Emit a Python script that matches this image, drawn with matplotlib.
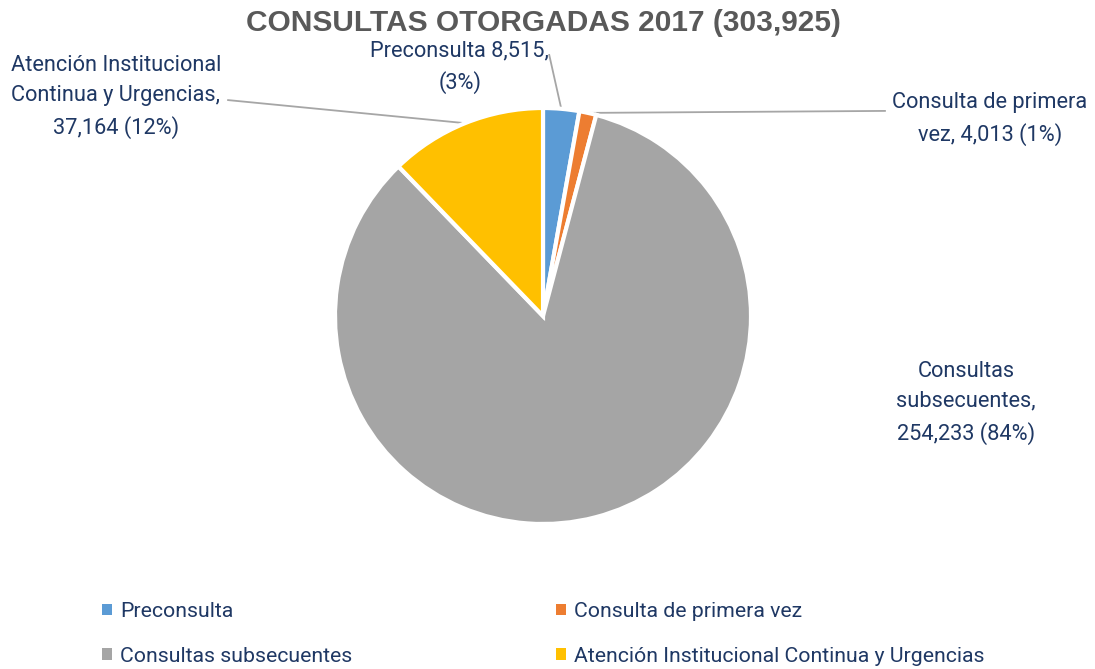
import matplotlib
matplotlib.use("Agg")
import matplotlib.pyplot as plt
from matplotlib.patches import Patch
import numpy as np

# Data
categories = ["Preconsulta", "Consulta de primera vez",
              "Consultas subsecuentes", "Atención Institucional Continua y Urgencias"]
values = [8515, 4013, 254233, 37164]
labels = ["Preconsulta 8,515,\n(3%)",
          "Consulta de primera\nvez, 4,013 (1%)",
          "Consultas\nsubsecuentes,\n254,233 (84%)",
          "Atención Institucional\nContinua y Urgencias,\n37,164 (12%)"]
colors = ["#5B9BD5", "#ED7D31", "#A5A5A5", "#FFC000"]

label_color = "#1F3864"
line_color = "#A6A6A6"
font = ["Roboto", "DejaVu Sans"]
fsize = 15.7

fig = plt.figure(figsize=(10.95, 6.69), dpi=100)
W, H = 1095, 669
cx, cy, R = 543, 316, 208
ax = fig.add_axes([(cx - R) / W, 1 - (cy + R) / H, 2 * R / W, 2 * R / H])

wedges, _ = ax.pie(values, colors=colors, startangle=90, counterclock=False,
                   radius=1, wedgeprops=dict(edgecolor="white", linewidth=3))
ax.set_xlim(-1, 1)
ax.set_ylim(-1, 1)
ax.set_aspect("equal")
ax.axis("off")

# label positions (axes data units) and leader-line end near text
text_pos = [(-0.40, 1.197), (2.149, 0.947), (2.034, -0.418), (-2.053, 1.053)]
line_end = [(0.03, 1.255), (1.644, 0.986), None, (-1.514, 1.038)]

for w, lab, tp, le in zip(wedges, labels, text_pos, line_end):
    ax.text(tp[0], tp[1], lab, ha="center", va="center", fontsize=fsize,
            color=label_color, family=font, linespacing=1.55, clip_on=False)
    if le is not None:
        ang = np.deg2rad((w.theta1 + w.theta2) / 2)
        x0, y0 = np.cos(ang), np.sin(ang)
        ax.plot([x0, le[0]], [y0, le[1]], color=line_color, lw=1.3,
                clip_on=False, zorder=0.5)

fig.text(cx / W, 1 - 23 / H, "CONSULTAS OTORGADAS 2017 (303,925)",
         ha="center", va="center", fontsize=21.5, fontweight="bold",
         color="#595959", family=["Liberation Sans", "DejaVu Sans"])

# legend filled row by row like the original
order = [0, 2, 1, 3]
handles = [Patch(facecolor=colors[i], edgecolor="none") for i in order]
fig.legend(handles, [categories[i] for i in order], loc="center left",
           bbox_to_anchor=(83 / W, 1 - 634 / H),
           ncol=2, frameon=False, handlelength=0.45, handleheight=0.45,
           handletextpad=0.4, columnspacing=9.6, labelspacing=1.2,
           prop={"family": font, "size": 15.3}, labelcolor=label_color)

fig.savefig("out.png", dpi=100)
